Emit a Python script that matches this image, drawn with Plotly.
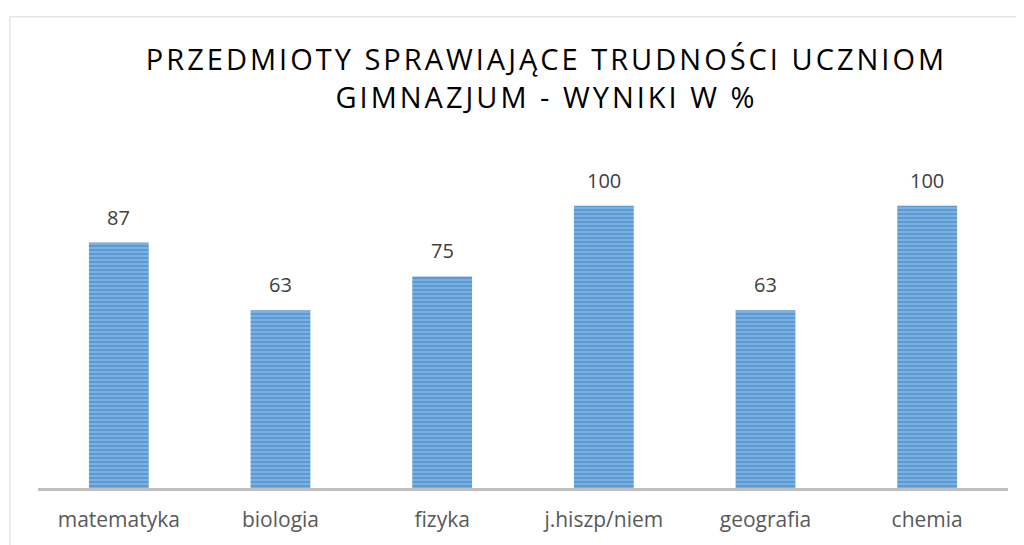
import plotly.graph_objects as go

categories = ["matematyka", "biologia", "fizyka", "j.hiszp/niem", "geografia", "chemia"]
values = [87, 63, 75, 100, 63, 100]
title_lines = ["PRZEDMIOTY SPRAWIAJĄCE TRUDNOŚCI UCZNIOM", "GIMNAZJUM - WYNIKI W %"]

fig = go.Figure(go.Bar(
    x=categories, y=values,
    width=0.37,
    marker=dict(
        color="#5B9BD5",
        line=dict(width=0),
        pattern=dict(shape="-", fgcolor="#BDD7EE", bgcolor="#5B9BD5", size=4, solidity=0.35),
    ),
    hoverinfo="x+y",
))

for c, v in zip(categories, values):
    fig.add_annotation(
        x=c, y=v, text=str(v), showarrow=False,
        yanchor="bottom", yshift=10,
        font=dict(family="Open Sans", size=20, color="#404040"),
    )

title_html = "<br>".join(
    '<span style="letter-spacing:3px">' + line + "</span>" for line in title_lines
)

fig.update_layout(
    width=1016, height=537,
    margin=dict(l=30, r=16, t=142, b=50),
    paper_bgcolor="white", plot_bgcolor="white",
    showlegend=False,
    title=dict(
        text=title_html,
        x=0.53, xanchor="center", y=0.884, yanchor="top",
        font=dict(family="Open Sans", size=29, color="#000000"),
    ),
    xaxis=dict(
        showgrid=False, showline=True, linecolor="#BFBFBF", linewidth=3,
        ticks="", ticklabelstandoff=11,
        tickfont=dict(family="Open Sans", size=21, color="#595959"),
    ),
    yaxis=dict(range=[0, 119.8], visible=False, showgrid=False),
    shapes=[
        dict(type="line", xref="paper", yref="paper", x0=-0.0289, x1=1.03, y0=1.394, y1=1.394,
             line=dict(color="#D9D9D9", width=1)),
        dict(type="line", xref="paper", yref="paper", x0=-0.0289, x1=-0.0289, y0=-0.2, y1=1.394,
             line=dict(color="#D9D9D9", width=1)),
    ],
)

fig.write_html("out.html")
